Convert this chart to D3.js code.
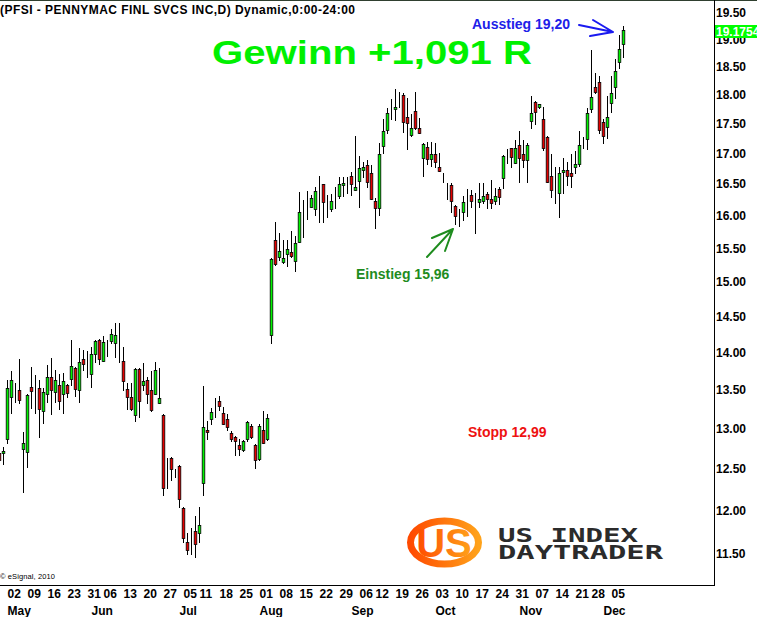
<!DOCTYPE html>
<html>
<head>
<meta charset="utf-8">
<script src="https://d3js.org/d3.v7.min.js"></script>
<style>
  body { margin: 0; background: #fff; }
  svg { display: block; }
</style>
</head>
<body>
<svg id="chart"></svg>
<script>
// daily candles, 28 Apr .. 08 Dec
const open = [12.69,12.69,12.86,13.41,13.51,13.50,12.74,12.71,13.54,13.45,
  13.52,13.22,13.45,13.67,13.47,13.56,13.45,13.56,13.64,13.79,
  13.50,13.91,13.76,13.71,13.98,14.17,13.89,14.15,14.16,14.13,
  14.05,13.89,13.51,13.41,13.17,13.78,13.56,13.63,13.50,13.45,
  13.33,13.17,12.45,12.63,12.46,12.53,12.03,11.63,11.60,11.76,
  11.74,12.32,12.98,13.12,13.33,13.35,13.20,13.12,12.94,12.89,
  12.79,12.73,12.86,13.03,12.79,12.62,12.98,12.86,14.24,15.63,
  15.37,15.29,15.41,15.44,15.31,15.60,16.01,16.10,16.14,16.10,
  16.36,16.50,16.20,16.10,16.36,16.31,16.49,16.54,16.63,16.41,
  16.55,16.73,16.81,16.68,16.23,16.12,17.13,17.40,17.64,17.76,
  17.88,18.00,17.62,17.31,17.72,17.43,16.93,17.11,16.91,16.99,
  16.78,16.63,16.46,16.49,16.15,16.01,16.06,16.17,16.33,16.07,
  16.22,16.23,16.34,16.26,16.23,16.42,16.60,17.04,17.09,16.85,
  17.14,16.99,16.89,17.55,17.88,17.79,17.58,17.28,16.63,16.39,
  16.36,16.70,16.73,16.68,16.78,16.83,17.18,17.24,17.76,18.14,
  18.23,17.53,17.45,17.86,18.14,18.59,18.92];
const high = [12.76,12.76,13.63,13.75,13.59,13.91,12.96,13.45,13.80,13.70,
  13.63,13.52,13.83,13.93,13.76,13.71,13.72,13.57,14.17,13.80,
  14.06,14.04,14.02,14.08,14.17,14.18,14.22,14.17,14.33,14.41,
  14.41,14.08,13.59,13.59,13.79,13.79,13.86,13.67,13.75,13.87,
  13.79,13.18,12.63,12.64,12.50,12.54,12.04,11.74,11.79,11.94,
  12.04,13.55,13.10,13.26,13.39,13.42,13.28,13.19,12.97,12.90,
  12.86,12.85,13.09,13.05,12.80,13.05,13.22,13.19,15.35,15.90,
  15.73,15.63,15.63,15.76,15.69,16.38,16.25,16.39,16.33,16.46,
  16.63,16.51,16.33,16.34,16.46,16.62,16.62,16.62,16.70,17.29,
  16.96,16.86,16.89,16.81,16.28,17.18,17.58,17.77,17.93,18.11,
  18.05,18.04,17.95,17.67,18.05,17.60,17.17,17.19,17.19,17.18,
  17.01,16.68,16.52,16.52,16.16,16.10,16.31,16.42,16.41,16.36,
  16.52,16.52,16.38,16.57,16.44,16.46,16.98,17.08,17.10,17.23,
  17.38,17.23,17.18,17.98,17.89,17.85,17.79,17.29,16.99,16.78,
  16.78,16.93,16.86,16.99,17.04,17.38,17.28,17.77,18.81,18.39,
  18.34,17.58,17.98,18.34,18.64,19.09,19.25];
const low = [12.55,12.56,12.81,13.20,13.34,13.33,12.22,12.52,13.26,13.20,
  12.89,13.07,13.34,13.19,13.34,13.25,13.20,13.41,13.56,13.42,
  13.34,13.76,13.67,13.54,13.87,13.85,13.88,13.95,14.13,13.94,
  13.87,13.50,13.25,13.24,13.10,13.15,13.50,13.33,13.22,13.44,
  13.32,12.18,12.26,12.36,12.40,12.04,11.64,11.50,11.50,11.47,
  11.64,12.18,12.86,13.05,13.15,13.24,13.05,12.98,12.84,12.67,
  12.67,12.72,12.84,12.88,12.51,12.61,12.81,12.85,14.13,15.25,
  15.32,15.28,15.23,15.37,15.16,15.59,15.67,15.95,16.13,16.01,
  15.90,15.90,15.98,16.07,16.12,16.28,16.31,16.36,16.33,16.40,
  16.14,16.62,16.46,16.26,15.81,16.01,17.01,17.35,17.58,17.57,
  17.79,17.36,17.08,17.29,17.42,17.34,16.63,16.83,16.80,16.78,
  16.71,16.54,16.26,16.06,15.87,15.84,15.93,15.99,16.14,15.73,
  16.14,16.20,16.12,16.12,16.18,16.18,16.44,16.85,16.78,16.84,
  16.54,16.78,16.54,17.43,17.50,17.78,17.06,16.53,16.30,16.20,
  15.98,16.36,16.49,16.46,16.68,16.80,17.09,17.08,17.70,18.04,
  17.35,17.18,17.26,17.70,17.95,18.48,18.68];
const close = [12.61,12.72,13.52,13.63,13.51,13.37,12.81,13.43,13.48,13.45,
  13.25,13.47,13.67,13.50,13.63,13.35,13.62,13.46,13.82,13.51,
  13.87,13.85,13.76,13.98,14.16,13.91,14.15,14.15,14.26,14.24,
  14.05,13.62,13.41,13.25,13.78,13.35,13.62,13.45,13.24,13.76,
  13.39,12.26,12.45,12.50,12.46,12.14,11.68,11.55,11.60,11.61,
  11.83,13.02,12.96,13.21,13.33,13.29,13.06,13.02,12.87,12.84,
  12.74,12.84,13.08,12.89,12.61,13.03,12.82,13.13,15.34,15.26,
  15.46,15.35,15.49,15.38,15.58,16.06,16.01,16.10,16.28,16.39,
  16.36,16.22,16.20,16.23,16.36,16.50,16.52,16.54,16.50,16.46,
  16.76,16.78,16.54,16.26,16.12,16.99,17.38,17.69,17.64,17.79,
  17.88,17.53,17.52,17.43,17.43,17.35,17.16,16.91,16.99,16.86,
  16.71,16.63,16.46,16.23,16.00,16.01,16.22,16.17,16.23,16.07,
  16.26,16.31,16.26,16.20,16.31,16.30,16.96,17.04,16.94,17.09,
  16.93,16.89,17.14,17.69,17.70,17.84,17.09,16.54,16.41,16.39,
  16.68,16.73,16.63,16.63,16.83,17.14,17.18,17.69,17.96,18.05,
  17.40,17.29,17.62,18.04,18.43,18.83,19.1754];

const firstDay = "2011-04-28";
const holidays = ["2011-05-30", "2011-07-04", "2011-09-05", "2011-11-24"];
const yTicks = [11.5, 12, 12.5, 13, 13.5, 14, 14.5, 15, 15.5, 16, 16.5, 17, 17.5, 18, 18.5, 19, 19.5];
const lastPrice = "19.1754";
const title = "(PFSI - PENNYMAC FINL SVCS INC,D) Dynamic,0:00-24:00";

const width = 757, height = 617;
const font = "'Liberation Sans', Arial, sans-serif";

// trading calendar
const parse = d3.timeParse("%Y-%m-%d");
const fmt = d3.timeFormat("%Y-%m-%d");
const days = [];
let d = parse(firstDay);
while (days.length < close.length) {
  const wd = d.getDay();
  if (wd > 0 && wd < 6 && !holidays.includes(fmt(d))) days.push(d);
  d = d3.timeDay.offset(d, 1);
}
const weekIdx = d3.range(1, days.length)
  .filter(i => +d3.timeMonday.floor(days[i]) !== +d3.timeMonday.floor(days[i - 1]));
const monthIdx = d3.range(1, days.length)
  .filter(i => days[i].getMonth() !== days[i - 1].getMonth());

const n = close.length;
const x = d3.scaleLinear().domain([0, n - 1]).range([-1, -1 + 4 * (n - 1)]);
const y = d3.scaleLog().domain([19.5, 11.5]).range([13, 554]);

const svg = d3.select("#chart")
    .attr("width", width)
    .attr("height", height)
    .attr("viewBox", [0, 0, width, height])
    .style("font-family", font);

svg.append("rect").attr("width", width).attr("height", height).attr("fill", "#fff");

// frame
svg.append("line").attr("x1", 0).attr("x2", width).attr("y1", 0.5).attr("y2", 0.5)
    .attr("stroke", "#2f3f2f");
svg.append("line").attr("x1", 714.5).attr("x2", 714.5).attr("y1", 0).attr("y2", 586)
    .attr("stroke", "#000");
svg.append("line").attr("x1", 0).attr("x2", 715).attr("y1", 585.5).attr("y2", 585.5)
    .attr("stroke", "#000");

// candles
const candles = svg.append("g")
  .selectAll("g")
  .data(d3.range(n))
  .join("g");

candles.append("line")
    .attr("shape-rendering", "crispEdges")
    .attr("x1", i => Math.round(x(i)) + 0.5)
    .attr("x2", i => Math.round(x(i)) + 0.5)
    .attr("y1", i => Math.round(y(high[i])))
    .attr("y2", i => Math.round(y(low[i])) + 1)
    .attr("stroke", "#000");

// bodies are a little over 3px wide in the (resampled) reference
candles.append("rect")
    .attr("x", i => Math.round(x(i)) + 0.5 - 1.3)
    .attr("y", i => Math.round(y(Math.max(open[i], close[i]))) + 0.5)
    .attr("width", 2.6)
    .attr("height", i => Math.max(0, Math.round(y(Math.min(open[i], close[i]))) - Math.round(y(Math.max(open[i], close[i])))))
    .attr("fill", i => close[i] > open[i] ? "#00f400" : close[i] < open[i] ? "#e40000" : "#000")
    .attr("stroke", "#000")
    .attr("stroke-width", 0.8);

// price axis
const yAxis = svg.append("g")
    .attr("transform", "translate(714,0)")
    .call(d3.axisRight(y).tickValues(yTicks).tickFormat(d3.format(".2f")).tickSize(0).tickPadding(2));
yAxis.select(".domain").remove();
yAxis.selectAll("text")
    .attr("font-family", font).attr("font-size", 12).attr("font-weight", "bold").attr("fill", "#000");

// last price box
svg.append("rect").attr("x", 715).attr("y", 25).attr("width", 42).attr("height", 13).attr("fill", "#00ff00");
svg.append("text").attr("x", 716).attr("y", 36)
    .attr("font-size", 12).attr("font-weight", "bold").attr("fill", "#fff").text(lastPrice);

// date axes
const dayAxis = svg.append("g")
    .attr("transform", "translate(0,586)")
    .call(d3.axisBottom(x).tickValues(weekIdx).tickFormat(i => d3.timeFormat("%d")(days[i])).tickSize(0));
dayAxis.select(".domain").remove();
dayAxis.selectAll("text")
    .attr("y", 12).attr("dy", null).attr("text-anchor", "start")
    .attr("font-family", font).attr("font-size", 12).attr("font-weight", "bold").attr("fill", "#000");

const monthAxis = svg.append("g")
    .attr("transform", "translate(0,603)")
    .call(d3.axisBottom(x).tickValues(monthIdx).tickFormat(i => d3.timeFormat("%b")(days[i])).tickSize(0));
monthAxis.select(".domain").remove();
monthAxis.selectAll("text")
    .attr("y", 12).attr("dy", null).attr("text-anchor", "start")
    .attr("font-family", font).attr("font-size", 12).attr("font-weight", "bold").attr("fill", "#000");

// header and credit
svg.append("text").attr("x", 0).attr("y", 13.5)
    .attr("font-size", 12).attr("font-weight", "bold").attr("fill", "#000")
    .attr("textLength", 355).text(title);
svg.append("text").attr("x", 0).attr("y", 579)
    .attr("font-size", 7.5).attr("fill", "#000")
    .attr("textLength", 55).text("\u00a9 eSignal, 2010");

// annotations
svg.append("text").attr("x", 212).attr("y", 64)
    .attr("font-size", 33).attr("font-weight", "bold").attr("fill", "#00f000")
    .attr("textLength", 320).attr("lengthAdjust", "spacingAndGlyphs")
    .text("Gewinn +1,091 R");

svg.append("text").attr("x", 472).attr("y", 29)
    .attr("font-size", 14).attr("font-weight", "bold").attr("fill", "#2020e8")
    .text("Ausstieg 19,20");

svg.append("text").attr("x", 356).attr("y", 279)
    .attr("font-size", 14).attr("font-weight", "bold").attr("fill", "#1e8c1e")
    .text("Einstieg 15,96");

svg.append("text").attr("x", 468).attr("y", 437)
    .attr("font-size", 14).attr("font-weight", "bold").attr("fill", "#ee1111")
    .text("Stopp 12,99");

const arrow = (pts, color) => {
  const [s, t, a, b] = pts;
  svg.append("path")
      .attr("d", `M${s}L${t}M${a}L${t}M${b}L${t}`)
      .attr("fill", "none").attr("stroke", color).attr("stroke-width", 2)
      .attr("stroke-linecap", "round");
};
arrow([[579, 25], [613, 32], [593, 20], [590, 36]], "#1a1af0");
arrow([[427, 257], [453, 229], [432, 238], [445, 251]], "#1e8c1e");

// logo
const defs = svg.append("defs");
const grad = defs.append("linearGradient").attr("id", "orange").attr("x1", 0).attr("x2", 1);
grad.append("stop").attr("offset", 0).attr("stop-color", "#ff4a00");
grad.append("stop").attr("offset", 1).attr("stop-color", "#ffa21a");

svg.append("ellipse").attr("cx", 444.5).attr("cy", 542.5).attr("rx", 34).attr("ry", 21.5)
    .attr("fill", "none").attr("stroke", "url(#orange)").attr("stroke-width", 7);
svg.append("text").attr("x", 444).attr("y", 557).attr("text-anchor", "middle")
    .attr("font-size", 40).attr("font-weight", "bold").attr("fill", "url(#orange)")
    .text("US");
svg.append("text").attr("x", 498).attr("y", 542)
    .attr("font-family", "'DejaVu Sans Mono', monospace").attr("font-size", 20).attr("font-weight", "bold")
    .attr("fill", "#2b2b2b").attr("textLength", 140).attr("lengthAdjust", "spacingAndGlyphs")
    .text("US INDEX");
svg.append("text").attr("x", 498).attr("y", 559)
    .attr("font-family", "'DejaVu Sans Mono', monospace").attr("font-size", 20).attr("font-weight", "bold")
    .attr("fill", "#2b2b2b").attr("textLength", 165).attr("lengthAdjust", "spacingAndGlyphs")
    .text("DAYTRADER");
</script>
</body>
</html>
